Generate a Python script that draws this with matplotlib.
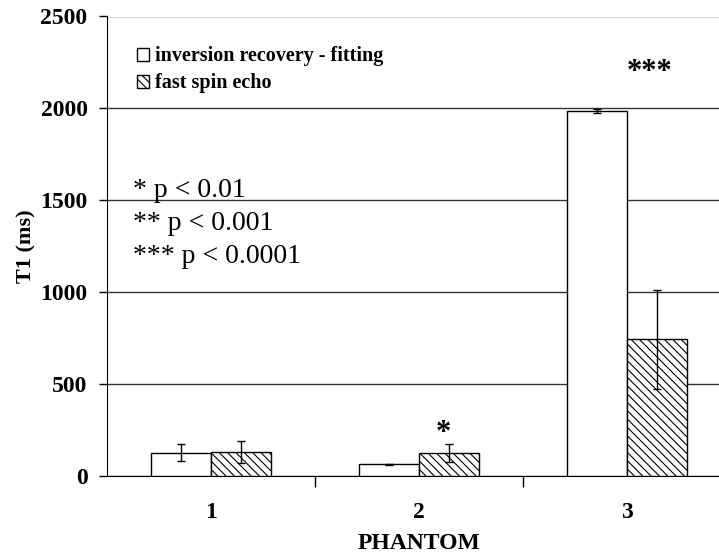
import matplotlib
matplotlib.use("Agg")
import matplotlib.pyplot as plt
import numpy as np

categories = ["1", "2", "3"]
ir_values = [127, 63, 1986]
ir_err = [45, 4, 12]
fse_values = [132, 127, 744]
fse_err = [60, 49, 268]
series_names = ["inversion recovery - fitting", "fast spin echo"]
sig_marks = ["", "*", "***"]
yticks = [0, 500, 1000, 1500, 2000, 2500]
p_notes = ["* p < 0.01", "** p < 0.001", "*** p < 0.0001"]

plt.rcParams['font.family'] = ['Liberation Serif', 'DejaVu Serif']
plt.rcParams['hatch.linewidth'] = 0.8

fig = plt.figure(figsize=(7.19, 5.55), dpi=100)
ax = fig.add_axes([107/719, 1-476/555, 624/719, (476-16.5)/555])

x = np.arange(len(categories)) + 0.5
w = 0.288
ekw = dict(elinewidth=1.0, capthick=1.0, ecolor='black')
ax.bar(x - w/2, ir_values, w, color='white', edgecolor='black', linewidth=1.0,
       yerr=ir_err, capsize=3, error_kw=ekw, label=series_names[0], zorder=3)
ax.bar(x + w/2, fse_values, w, color='white', edgecolor='black', linewidth=1.0, hatch='\\\\\\\\',
       yerr=fse_err, capsize=3, error_kw=ekw, label=series_names[1], zorder=3)

ax.set_xlim(0, 3)
ax.set_ylim(0, 2500)
ax.set_yticks(yticks)
ax.set_yticklabels([str(t) for t in yticks], fontsize=17, fontweight='bold')
ax.set_xticks([1, 2, 3], minor=False)
ax.set_xticklabels([])
ax.set_xticks(x, minor=True)
ax.set_xticklabels(categories, minor=True, fontsize=17, fontweight='bold')
ax.tick_params(axis='x', which='minor', length=0, pad=19)
ax.tick_params(axis='x', which='major', length=8, direction='out', width=1)
ax.tick_params(axis='y', length=6, direction='out', width=1, pad=8)
ax.yaxis.grid(True, color='#333333', linewidth=1.0, zorder=0)
ax.set_axisbelow(True)
for s in ['top', 'right']:
    ax.spines[s].set_visible(False)

ax.set_ylabel("T1 (ms)", fontsize=16, fontweight='bold', labelpad=3)
ax.set_xlabel("PHANTOM", fontsize=17, fontweight='bold', labelpad=7)

ax.text(x[1] + w/2 - 0.025, 229, sig_marks[1], ha='center', va='center',
        fontsize=22, fontweight='bold')
ax.text(x[2] + 0.11, 2198, sig_marks[2], ha='center', va='center',
        fontsize=22, fontweight='bold')

leg = ax.legend(loc='upper left', bbox_to_anchor=(0.048, 0.935), frameon=False,
                prop=dict(weight='bold', size=14.5), handlelength=0.6, handleheight=0.6,
                handletextpad=0.3, labelspacing=0.35, borderaxespad=0, borderpad=0)

for yy, note in zip([1518, 1338, 1159], p_notes):
    ax.text(0.125, yy, note, fontsize=20, va='baseline', ha='left')

fig.savefig("out.png", dpi=100)
